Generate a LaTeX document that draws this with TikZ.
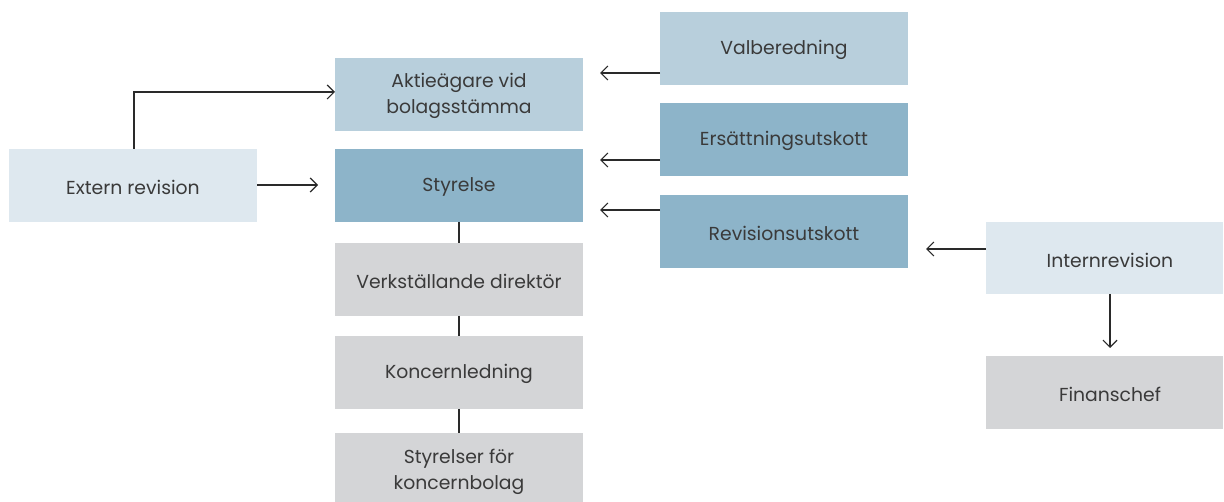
\documentclass[tikz,border=0pt]{standalone}
\usepackage{fontspec}
\setmainfont{Poppins}
\usetikzlibrary{arrows.meta}
\definecolor{lblue}{HTML}{B8CFDC}
\definecolor{mblue}{HTML}{8DB4C9}
\definecolor{pblue}{HTML}{DEE8EF}
\definecolor{lgrey}{HTML}{D4D5D7}
\definecolor{txt}{HTML}{3A3A3A}
\definecolor{ln}{HTML}{2A2A2A}
\begin{document}
\begin{tikzpicture}[x=1pt,y=-1pt,
  box/.style={inner sep=0pt, align=center, text=txt, font=\fontsize{18.8}{26}\selectfont},
  conn/.style={draw=ln, line width=1.2pt},
  arr/.style={conn, -{Straight Barb[length=7pt,width=14pt,line width=1.2pt]}}]
\useasboundingbox (0,0) rectangle (1224,502);
% boxes
\fill[lblue] (335,58) rectangle (583,131);
\node[box] (aga) at (459,96) {Aktieägare vid\\bolagsstämma};
\fill[mblue] (335,149) rectangle (583,222);
\node[box] (sty) at (459,187) {Styrelse};
\fill[lgrey] (335,243) rectangle (583,316);
\node[box] (vd) at (459,281) {Verkställande direktör};
\fill[lgrey] (335,336) rectangle (583,409);
\node[box] (kl) at (459,374) {Koncernledning};
\fill[lgrey] (335,433) rectangle (583,502);
\node[box] (skb) at (459,471.5) {Styrelser för\\koncernbolag};
\fill[pblue] (9,149) rectangle (257,222);
\node[box] (ext) at (133,187) {Extern revision};
\fill[lblue] (660,12) rectangle (908,85);
\node[box] (val) at (784,50) {Valberedning};
\fill[mblue] (660,103) rectangle (908,176);
\node[box] (ers) at (784,141) {Ersättningsutskott};
\fill[mblue] (660,195) rectangle (908,268);
\node[box] (rev) at (784,233) {Revisionsutskott};
\fill[pblue] (986,222) rectangle (1223,294);
\node[box] (int) at (1110,260) {Internrevision};
\fill[lgrey] (986,356) rectangle (1223,429);
\node[box] (fin) at (1110,394) {Finanschef};
% coordinates
\coordinate (stytop) at (459,222);
\coordinate (vdtop) at (459,243);
\coordinate (vdbot) at (459,316);
\coordinate (kltop) at (459,336);
\coordinate (klbot) at (459,409);
\coordinate (skbtop) at (459,433);
\coordinate (exttop) at (134,149);
\coordinate (agaleft) at (335,92);
\coordinate (extright) at (257,185);
\coordinate (styin) at (318,185);
\coordinate (valleft) at (660,73);
\coordinate (valtip) at (600,73);
\coordinate (ersleft) at (660,160);
\coordinate (erstip) at (600,160);
\coordinate (revleft) at (660,210);
\coordinate (revtip) at (600,210);
\coordinate (intleft) at (986,249);
\coordinate (inttip) at (926,249);
\coordinate (intbot) at (1110,294);
\coordinate (fintip) at (1110,348);
% connectors
\draw[conn] (stytop) -- (vdtop);
\draw[conn] (vdbot) -- (kltop);
\draw[conn] (klbot) -- (skbtop);
\draw[arr] (exttop) |- (agaleft);
\draw[arr] (extright) -- (styin);
\draw[arr] (valleft) -- (valtip);
\draw[arr] (ersleft) -- (erstip);
\draw[arr] (revleft) -- (revtip);
\draw[arr] (intleft) -- (inttip);
\draw[arr] (intbot) -- (fintip);
\end{tikzpicture}
\end{document}
